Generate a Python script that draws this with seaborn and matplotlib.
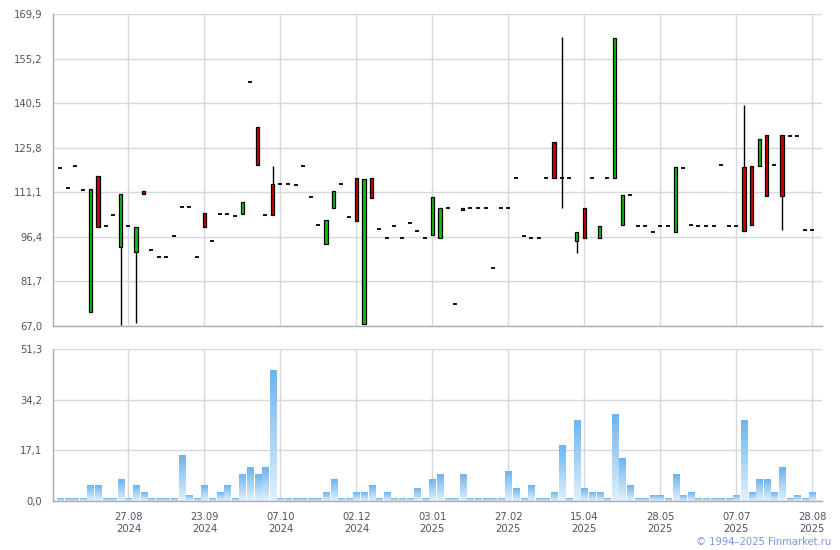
import numpy as np
import pandas as pd
import matplotlib
matplotlib.use("Agg")
import matplotlib.pyplot as plt
from matplotlib.colors import LinearSegmentedColormap
from matplotlib.ticker import FuncFormatter
import seaborn as sns

# ---------------- data ----------------
opens = [119.0, 112.4, 119.8, 111.8, 71.7, 116.5, 99.9, 103.5, 93.2, 99.9,
         91.5, 111.5, 92.1, 89.6, 89.6, 96.6, 106.1, 106.1, 89.6, 104.2,
         94.9, 103.8, 103.8, 103.2, 103.8, 147.4, 132.5, 103.5, 113.8, 113.8,
         113.8, 113.4, 119.8, 109.4, 100.2, 93.9, 105.8, 113.8, 102.9, 115.7,
         67.7, 115.7, 98.9, 95.9, 99.9, 95.9, 100.9, 98.3, 95.9, 96.9,
         95.9, 105.8, 74.2, 105.8, 105.8, 105.8, 105.8, 86.0, 105.8, 105.8,
         115.7, 96.6, 95.9, 95.9, 115.7, 127.6, 115.7, 115.7, 94.9, 105.8,
         115.7, 95.9, 115.7, 115.7, 100.2, 110.1, 99.9, 99.9, 97.9, 99.9,
         99.9, 97.9, 119.0, 100.2, 99.9, 99.9, 99.9, 120.1, 99.9, 99.9,
         119.3, 119.7, 119.7, 129.9, 120.1, 129.9, 129.6, 129.6, 98.6, 98.6]
closes = [119.0, 112.4, 119.8, 111.8, 112.1, 99.7, 99.9, 103.5, 110.5, 99.9,
          99.5, 110.6, 92.1, 89.6, 89.6, 96.6, 106.1, 106.1, 89.6, 99.7,
          94.9, 103.8, 103.8, 103.2, 107.8, 147.4, 120.0, 103.5, 103.5, 113.8,
          113.8, 113.4, 119.8, 109.4, 100.2, 101.9, 111.4, 113.8, 102.9, 101.5,
          115.4, 109.1, 98.9, 95.9, 99.9, 95.9, 100.9, 98.3, 95.9, 109.6,
          105.8, 105.8, 74.2, 105.2, 105.8, 105.8, 105.8, 86.0, 105.8, 105.8,
          115.7, 96.6, 95.9, 95.9, 115.7, 115.7, 115.7, 115.7, 97.9, 95.9,
          115.7, 99.9, 115.7, 161.9, 110.1, 110.1, 99.9, 99.9, 97.9, 99.9,
          99.9, 119.3, 119.0, 100.2, 99.9, 99.9, 99.9, 120.1, 99.9, 99.9,
          98.2, 100.2, 128.6, 109.8, 120.1, 109.8, 129.6, 129.6, 98.6, 98.6]
# extra wick extremes (index: (low, high))
wick_low = {8: 67.3, 10: 67.9, 66: 105.8, 68: 91.0, 95: 98.6}
wick_high = {28: 119.8, 66: 162.2, 90: 139.8}

volumes = [1, 1, 1, 1, 5.1, 5.1, 1, 1, 7.1, 1,
           5.1, 3, 1, 1, 1, 1, 15.2, 2, 1, 5.1,
           1, 3, 5.1, 1, 9.1, 11.2, 9.1, 11.2, 44.0, 1,
           1, 1, 1, 1, 1, 3, 7.1, 1, 1, 3,
           3, 5.1, 1, 3, 1, 1, 1, 4.1, 1, 7.1,
           9.1, 1, 1, 9.1, 1, 1, 1, 1, 1, 10.1,
           4.1, 1, 5.1, 1, 1, 3, 18.9, 1, 27.1, 4.1,
           3, 3, 1, 29.1, 14.2, 5.1, 1, 1, 2, 2,
           1, 9.1, 2, 3, 1, 1, 1, 1, 1, 2,
           27.1, 3, 7.1, 7.1, 3, 11.2, 1, 2, 1, 3]

tick_idx = [9, 19, 29, 39, 49, 59, 69, 79, 89, 99]
tick_labels = ["27.08\n2024", "23.09\n2024", "07.10\n2024", "02.12\n2024",
               "03.01\n2025", "27.02\n2025", "15.04\n2025", "28.05\n2025",
               "07.07\n2025", "28.08\n2025"]
price_ticks = [67.0, 81.7, 96.4, 111.1, 125.8, 140.5, 155.2, 169.9]
vol_ticks = [0.0, 17.1, 34.2, 51.3]

# ---------------- style ----------------
sns.set_style("white")
plt.rcParams["font.family"] = ["DejaVu Sans"]
GRID = "#d5d9dd"
SPINE = "#a9aab4"
LABEL = "#4f5464"
GREEN = "#12c012"
RED = "#d20000"

fig = plt.figure(figsize=(8.4, 5.5), dpi=100)
W, H = 840, 550
x_left, x_right = 53.3, 821.7
ax1 = fig.add_axes([x_left / W, 1 - 326 / H, (x_right - x_left) / W, 312 / H])
ax2 = fig.add_axes([x_left / W, 1 - 501 / H, (x_right - x_left) / W, 152 / H])

xlim = (-0.88, 100.22)

# ---------------- volume (seaborn) ----------------
df = pd.DataFrame({"idx": np.arange(len(volumes)), "vol": volumes})
sns.barplot(data=df, x="idx", y="vol", ax=ax2, width=0.8, color="#8cc6f2",
            saturation=1, zorder=2)
cmap = LinearSegmentedColormap.from_list("vg", ["#e2f1fd", "#6db4ee"])
grad = np.linspace(0, 1, 256).reshape(-1, 1)
for p in list(ax2.patches):
    x0, y0, w, h = p.get_x(), p.get_y(), p.get_width(), p.get_height()
    ax2.imshow(grad, extent=[x0, x0 + w, y0, y0 + h], aspect="auto",
               cmap=cmap, origin="lower", zorder=2, interpolation="bilinear")
    p.set_alpha(0)

# ---------------- candles ----------------
n = len(opens)
xs = np.arange(n)
for i in range(n):
    o, c = opens[i], closes[i]
    lo = wick_low.get(i, min(o, c))
    hi = wick_high.get(i, max(o, c))
    if hi > max(o, c) or lo < min(o, c):
        ax1.vlines(xs[i], lo, hi, color="black", lw=1.0, zorder=3)
    if abs(o - c) < 1e-9:
        ax1.hlines(o, xs[i] - 0.27, xs[i] + 0.27, color="black", lw=1.3, zorder=4)
    else:
        col = GREEN if c > o else RED
        ax1.bar(xs[i], abs(c - o), bottom=min(o, c), width=0.42, color=col,
                edgecolor="black", linewidth=0.9, zorder=4)

# ---------------- axes styling ----------------
fmt = FuncFormatter(lambda v, pos: f"{v:.1f}".replace(".", ","))
for ax, yt in ((ax1, price_ticks), (ax2, vol_ticks)):
    ax.set_xlim(*xlim)
    ax.set_ylim(yt[0], yt[-1])
    ax.set_yticks(yt)
    ax.yaxis.set_major_formatter(fmt)
    ax.set_xticks(tick_idx)
    ax.set_axisbelow(True)
    ax.grid(True, color=GRID, lw=1.0)
    for s in ("top", "right"):
        ax.spines[s].set_visible(False)
    for s in ("left", "bottom"):
        ax.spines[s].set_color(SPINE)
        ax.spines[s].set_linewidth(1.0)
    ax.tick_params(axis="both", length=6, width=1, color=SPINE,
                   labelcolor=LABEL, labelsize=7.2, pad=2)
    ax.set_xlabel("")
    ax.set_ylabel("")

ax1.set_xticklabels([])
ax2.set_xticklabels(tick_labels, linespacing=1.25)

fig.text(831 / W, 1 - 542 / H, "© 1994–2025 Finmarket.ru", ha="right",
         va="center", color="#7b97e0", fontsize=7.2)

fig.savefig("out.png", dpi=100)
